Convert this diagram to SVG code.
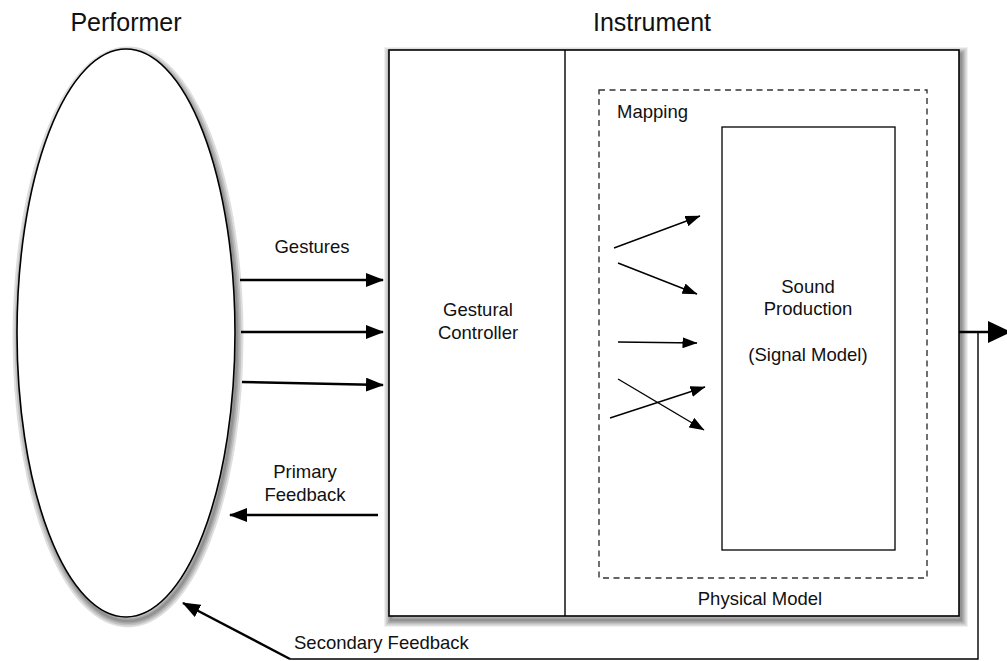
<svg xmlns="http://www.w3.org/2000/svg" width="1007" height="661" viewBox="0 0 1007 661">
  <style>
    .lbl { font-family: "Liberation Sans", Arial, Helvetica, sans-serif; font-size: 18.5px; fill: #111; }
    .title { font-family: "Liberation Sans", Arial, Helvetica, sans-serif; font-size: 25px; fill: #111; }
    .mid { text-anchor: middle; }
    .shape { fill: #fff; stroke: #000; stroke-width: 1.6; }
    .thin { fill: #fff; stroke: #000; stroke-width: 1.3; }
    .dash { fill: none; stroke: #333; stroke-width: 1.4; stroke-dasharray: 6 4.5; }
    .wire { fill: none; stroke: #000; stroke-width: 2.4; }
    .wire-thin { fill: none; stroke: #000; stroke-width: 1.4; }
    /* layered soft shadow: stacked translucent strokes */
    .sh { fill: none; stroke: #000; stroke-opacity: 0.13; }
    .sh1 { stroke-width: 13; }
    .sh2 { stroke-width: 9; }
    .sh3 { stroke-width: 5.5; }
    .sh4 { stroke-width: 2.5; }
  </style>
  <defs>
    <marker id="head" markerUnits="userSpaceOnUse" markerWidth="19" markerHeight="14" refX="17" refY="7" orient="auto">
      <path d="M0,0 L18,7 L0,14 z" fill="#000"/>
    </marker>
    <marker id="head-sm" markerUnits="userSpaceOnUse" markerWidth="16" markerHeight="11" refX="14.5" refY="5.5" orient="auto">
      <path d="M0,0 L15,5.5 L0,11 z" fill="#000"/>
    </marker>
    <marker id="head-lg" markerUnits="userSpaceOnUse" markerWidth="24" markerHeight="22" refX="22" refY="11" orient="auto">
      <path d="M0,0 L23,11 L0,22 z" fill="#000"/>
    </marker>
    <ellipse id="performer-outline" cx="126" cy="333" rx="109" ry="284"/>
    <rect id="instrument-outline" x="389" y="50" width="570" height="566"/>
  </defs>

  <rect width="1007" height="661" fill="#fff"/>

  <!-- Performer -->
  <g id="performer">
    <g transform="translate(2,4)">
      <use href="#performer-outline" class="sh sh1"/>
      <use href="#performer-outline" class="sh sh2"/>
      <use href="#performer-outline" class="sh sh3"/>
      <use href="#performer-outline" class="sh sh4"/>
    </g>
    <use href="#performer-outline" class="shape"/>
    <text class="title mid" x="126" y="31">Performer</text>
  </g>

  <!-- Instrument -->
  <g id="instrument">
    <g transform="translate(2,4)">
      <use href="#instrument-outline" class="sh sh1"/>
      <use href="#instrument-outline" class="sh sh2"/>
      <use href="#instrument-outline" class="sh sh3"/>
      <use href="#instrument-outline" class="sh sh4"/>
    </g>
    <use href="#instrument-outline" class="shape"/>
    <line x1="565" y1="50" x2="565" y2="616" stroke="#000" stroke-width="1.4"/>
    <text class="title mid" x="652" y="31">Instrument</text>
    <text class="lbl mid" x="760" y="605">Physical Model</text>
  </g>

  <g id="gestural-controller">
    <text class="lbl mid" x="478" y="316">Gestural</text>
    <text class="lbl mid" x="478" y="339">Controller</text>
  </g>

  <g id="mapping">
    <rect class="dash" x="599" y="90" width="328" height="488"/>
    <text class="lbl" x="617" y="118">Mapping</text>
  </g>

  <g id="sound-production">
    <rect class="thin" x="722" y="127" width="173" height="423"/>
    <text class="lbl mid" x="808" y="293">Sound</text>
    <text class="lbl mid" x="808" y="315">Production</text>
    <text class="lbl mid" x="808" y="361">(Signal Model)</text>
  </g>

  <!-- Connectors -->
  <g id="connectors">
    <path class="wire" d="M240,280 H383" marker-end="url(#head)"/>
    <path class="wire" d="M241,332 H383" marker-end="url(#head)"/>
    <path class="wire" d="M242,382 L383,385" marker-end="url(#head)"/>
    <path class="wire" d="M378,515 H230" marker-end="url(#head)"/>

    <path class="wire-thin" d="M614,248 L700,216" marker-end="url(#head-sm)"/>
    <path class="wire-thin" d="M618,263 L697,294" marker-end="url(#head-sm)"/>
    <path class="wire-thin" d="M618,342 L697,343" marker-end="url(#head-sm)"/>
    <path class="wire-thin" d="M618,379 L704,430" marker-end="url(#head-sm)"/>
    <path class="wire-thin" d="M610,418 L705,387" marker-end="url(#head-sm)"/>

    <path class="wire" d="M959,332 H1010" marker-end="url(#head-lg)"/>
    <path class="wire-thin" d="M978,332 V659 H290"/>
    <path class="wire" d="M290,659 L183,603" marker-end="url(#head)"/>
  </g>

  <g id="labels">
    <text class="lbl mid" x="312" y="253">Gestures</text>
    <text class="lbl mid" x="305" y="478">Primary</text>
    <text class="lbl mid" x="305" y="501">Feedback</text>
    <text class="lbl" x="294" y="649">Secondary Feedback</text>
  </g>
</svg>
